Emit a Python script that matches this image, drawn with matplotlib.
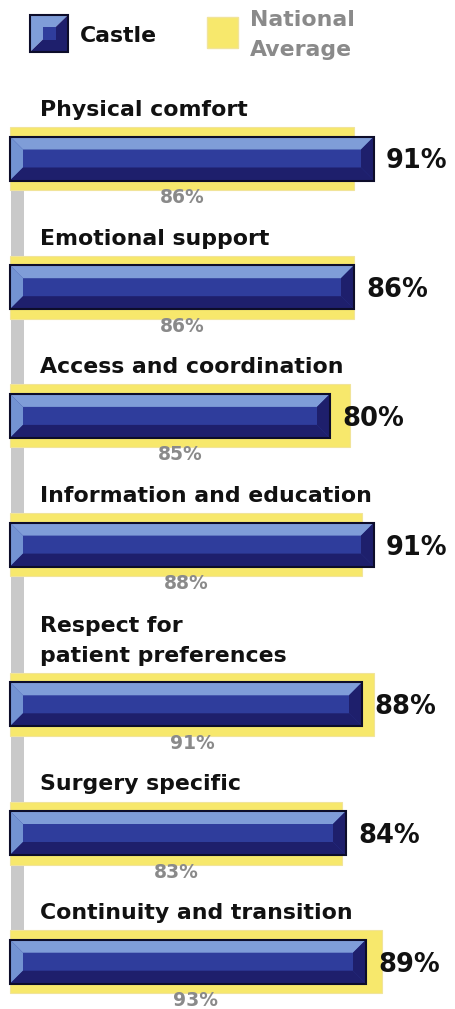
import matplotlib
matplotlib.use("Agg")
import matplotlib.pyplot as plt
from matplotlib.patches import Polygon, Rectangle

# data
categories = ["Physical comfort", "Emotional support", "Access and coordination",
              "Information and education", "Respect for\npatient preferences",
              "Surgery specific", "Continuity and transition"]
castle = [91, 86, 80, 91, 88, 84, 89]
national = [86, 86, 85, 88, 91, 83, 93]

# colours
light = '#7f9dd8'
left_c = '#7393d2'
mid = '#2f3d9c'
dark = '#1e1f6c'
outline = '#0d0d2a'
yellow = '#f7e86c'
grey_txt = '#8a8a8a'

W, H = 455, 1009
fig = plt.figure(figsize=(W / 100, H / 100), dpi=100)
ax = fig.add_axes([0, 0, 1, 1])
# x in percent (4 px per percent, 0% at x=10px), y in pixels from top
ax.set_xlim(-2.5, (W - 10) / 4)
ax.set_ylim(H, 0)
ax.axis('off')


def px(x):
    return (x - 10) / 4.0


# bar centres (extra room for two-line labels)
centres = []
y = 158.5
for i, c in enumerate(categories):
    if i > 0:
        y += 128.7 + 31 * c.count('\n')
    centres.append(y)

hc = 44   # castle bar height
hn = 63   # national bar height
bev_x = 13 / 4.0
bev_y = 13

# grey spine behind bars
ax.add_patch(Rectangle((px(11), centres[0]), px(24) - px(11), centres[-1] - centres[0],
                       facecolor='#c9c9c9', edgecolor='none', zorder=0))

ax.barh(centres, national, height=hn, left=0, color=yellow, edgecolor='#f1e49a',
        linewidth=0.8, zorder=1)
ax.barh(centres, castle, height=hc, left=0, color=mid, edgecolor='none', zorder=2)

for c, v, n, lab in zip(centres, castle, national, categories):
    t = c - hc / 2
    b = c + hc / 2
    x0, x1 = 0, v
    ax.add_patch(Polygon([(x0, t), (x1, t), (x1 - bev_x, t + bev_y), (x0 + bev_x, t + bev_y)],
                         closed=True, facecolor=light, edgecolor='none', zorder=3))
    ax.add_patch(Polygon([(x0, t), (x0 + bev_x, t + bev_y), (x0 + bev_x, b - bev_y), (x0, b)],
                         closed=True, facecolor=left_c, edgecolor='none', zorder=3))
    ax.add_patch(Polygon([(x0, b), (x0 + bev_x, b - bev_y), (x1 - bev_x, b - bev_y), (x1, b)],
                         closed=True, facecolor=dark, edgecolor='none', zorder=3))
    ax.add_patch(Polygon([(x1, t), (x1, b), (x1 - bev_x, b - bev_y), (x1 - bev_x, t + bev_y)],
                         closed=True, facecolor=dark, edgecolor='none', zorder=3))
    ax.add_patch(Rectangle((x0, t), x1 - x0, b - t, facecolor='none', edgecolor=outline,
                           linewidth=1.5, zorder=4))

    # castle value
    ax.text(v + 3, c + 10, f"{v}%", fontsize=18.5, fontweight='bold', color='#111111',
            ha='left', va='baseline', zorder=5)
    # national value
    ax.text(n / 2, c + hn / 2 + 13, f"{n}%", fontsize=13.5, fontweight='bold',
            color=grey_txt, ha='center', va='baseline', zorder=5)
    # category label (last line sits just above the yellow bar)
    lines = lab.split('\n')
    base = c - hn / 2 - 11
    for k, ln in enumerate(reversed(lines)):
        ax.text(px(40), base - 30 * k, ln, fontsize=15.8, fontweight='bold',
                color='#111111', ha='left', va='baseline', zorder=5)

# legend: castle swatch
lx0, lx1, ly0, ly1 = px(30), px(68), 15, 52
ax.add_patch(Polygon([(lx0, ly0), (lx1, ly0), (lx0, ly1)], closed=True,
                     facecolor=light, edgecolor='none', zorder=3))
ax.add_patch(Polygon([(lx1, ly0), (lx1, ly1), (lx0, ly1)], closed=True,
                     facecolor=dark, edgecolor='none', zorder=3))
ax.add_patch(Rectangle((px(43), 27), px(56) - px(43), 13, facecolor=mid,
                       edgecolor='none', zorder=4))
ax.add_patch(Rectangle((lx0, ly0), lx1 - lx0, ly1 - ly0, facecolor='none',
                       edgecolor=outline, linewidth=1.5, zorder=5))
ax.text(px(80), 42, "Castle", fontsize=15.8, fontweight='bold', color='#111111',
        ha='left', va='baseline')

# legend: national swatch
ax.add_patch(Rectangle((px(207), 17), px(238) - px(207), 31, facecolor=yellow,
                       edgecolor='#f1e49a', linewidth=1, zorder=3))
ax.text(px(250), 26, "National", fontsize=15.8, fontweight='bold', color=grey_txt,
        ha='left', va='baseline')
ax.text(px(250), 56, "Average", fontsize=15.8, fontweight='bold', color=grey_txt,
        ha='left', va='baseline')

fig.savefig("out.png", dpi=100, facecolor='white')
